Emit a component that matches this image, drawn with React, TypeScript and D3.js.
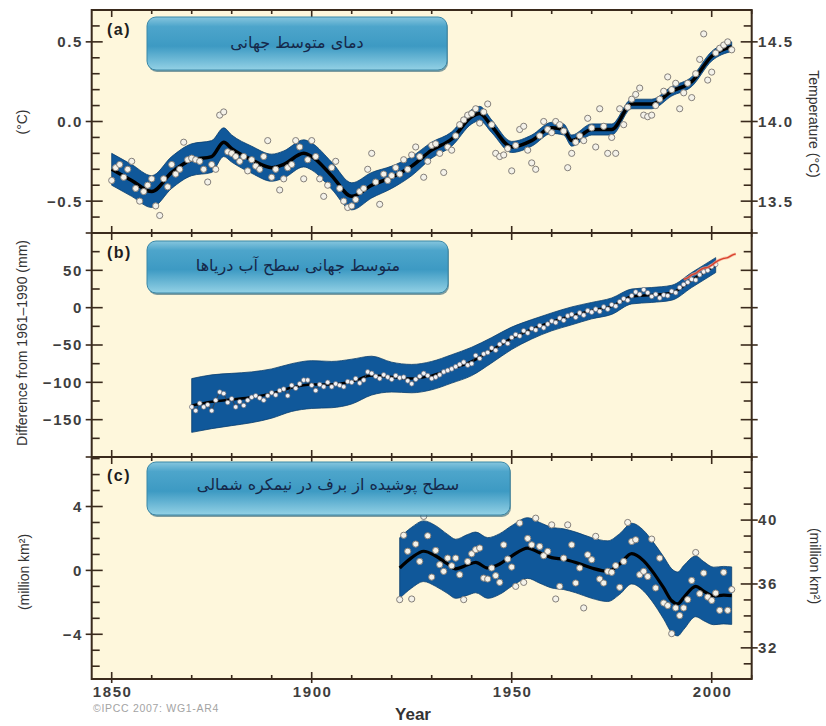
import React, { useEffect, useRef } from 'react';
import * as d3 from 'd3';

// (a) global mean temperature, annual anomalies from 1850 (°C)
const tempStart = 1850;
const tempAnnual = [
  -0.37, -0.29, -0.27, -0.35, -0.30, -0.25, -0.42, -0.50, -0.44, -0.40,
  -0.36, -0.53, -0.59, -0.36, -0.41, -0.27, -0.33, -0.30, -0.13, -0.24,
  -0.23, -0.24, -0.25, -0.30, -0.38, -0.27, -0.30, 0.04, 0.06, -0.19,
  -0.20, -0.22, -0.25, -0.22, -0.31, -0.24, -0.28, -0.30, -0.22, -0.12,
  -0.35, -0.30, -0.43, -0.36, -0.29, -0.27, -0.12, -0.16, -0.36, -0.24,
  -0.12, -0.22, -0.36, -0.47, -0.40, -0.29, -0.25, -0.42, -0.50, -0.54,
  -0.53, -0.49, -0.44, -0.42, -0.30, -0.20, -0.38, -0.52, -0.33, -0.37,
  -0.34, -0.29, -0.33, -0.24, -0.30, -0.21, -0.16, -0.22, -0.35, -0.25,
  -0.15, -0.14, -0.20, -0.32, -0.16, -0.18, -0.09, -0.02, 0.01, 0.04,
  0.05, 0.08, -0.01, 0.06, 0.11, -0.02, -0.20, -0.22, -0.21, -0.17,
  -0.31, -0.15, -0.05, -0.03, -0.18, -0.26, -0.30, -0.09, 0.00, -0.05,
  -0.07, 0.00, -0.02, -0.06, -0.29, -0.20, -0.13, -0.09, -0.12, 0.02,
  -0.04, -0.16, 0.08, -0.03, -0.20, -0.10, -0.20, 0.08, -0.02, 0.09,
  0.14, 0.17, 0.21, 0.04, 0.03, 0.04, 0.10, 0.14, 0.19, 0.28,
  0.20, 0.24, 0.08, 0.18, 0.24, 0.15, 0.30, 0.39, 0.55, 0.26,
  0.31, 0.43, 0.46, 0.48, 0.50, 0.45,
];
const tempSmoothYears = [1850, 1855, 1860, 1865, 1870, 1875, 1878, 1880, 1885, 1890, 1893, 1898, 1900, 1905, 1910, 1915, 1920, 1925, 1930, 1935, 1940, 1942, 1945, 1950, 1955, 1960, 1963, 1965, 1970, 1975, 1980, 1985, 1990, 1995, 2000, 2005];
const tempSmooth = [-0.30, -0.37, -0.44, -0.32, -0.24, -0.22, -0.13, -0.17, -0.24, -0.29, -0.27, -0.20, -0.22, -0.34, -0.47, -0.40, -0.35, -0.28, -0.18, -0.11, 0.03, 0.05, -0.03, -0.16, -0.12, -0.04, -0.05, -0.12, -0.05, -0.05, 0.11, 0.11, 0.19, 0.25, 0.41, 0.47];
const tempBand = [0.10, 0.10, 0.10, 0.10, 0.10, 0.10, 0.09, 0.085, 0.085, 0.085, 0.085, 0.085, 0.085, 0.085, 0.085, 0.08, 0.07, 0.06, 0.05, 0.045, 0.045, 0.045, 0.04, 0.035, 0.035, 0.035, 0.035, 0.035, 0.035, 0.035, 0.03, 0.03, 0.03, 0.03, 0.03, 0.03];

// (b) global mean sea level, difference from 1961-1990 (mm)
const seaStart = 1870;
const seaAnnual = [
  -133, -138, -128, -133, -130, -138, -124, -113, -115, -127,
  -122, -133, -126, -131, -124, -120, -118, -121, -124, -118,
  -114, -117, -111, -109, -118, -104, -108, -102, -97, -97,
  -104, -111, -103, -106, -100, -106, -102, -104, -106, -99,
  -100, -95, -101, -97, -86, -88, -92, -95, -90, -93,
  -96, -91, -94, -93, -98, -102, -96, -92, -88, -91,
  -95, -93, -90, -86, -84, -82, -79, -76, -73, -77,
  -75, -64, -68, -62, -60, -54, -57, -49, -45, -48,
  -40, -36, -38, -31, -34, -28, -30, -24, -27, -22,
  -18, -20, -14, -17, -11, -9, -13, -7, -10, -4,
  -6, -2, -5, 1, -2, 4, 2, 8, 12, 10,
  16, 21, 18, 24, 20, 15, 18, 13, 17, 16,
  22, 20, 27, 31, 34, 38, 37, 44, 48, 50,
  55, 58,
];
const seaSmoothYears = [1870, 1875, 1880, 1885, 1890, 1895, 1900, 1905, 1910, 1915, 1920, 1925, 1930, 1935, 1940, 1945, 1950, 1955, 1960, 1965, 1970, 1975, 1980, 1985, 1990, 1995, 2001];
const seaSmooth = [-131, -126, -123, -120, -115, -107, -103, -103, -99, -91, -93, -95, -91, -82, -72, -57, -41, -29, -19, -11, -4, 2, 15, 17, 20, 37, 57];
const seaBand = [36, 36, 35, 34, 33, 32, 32, 31, 30, 26, 20, 19, 19, 19, 19, 17, 15, 13, 12, 12, 11, 11, 10, 10, 10, 10, 10];
const satYears = [1993, 1994, 1995, 1996, 1997, 1998, 1999, 2000, 2001, 2002, 2003, 2004, 2005, 2006];
const satLevel = [38, 40, 44, 46, 50, 53, 54, 57, 61, 64, 66, 67, 70, 72];

// (c) Northern Hemisphere snow cover anomaly (million km²)
const snowStart = 1922;
const snowAnnual = [
  -1.83, 2.2, 1.2, -1.79, 1.65, 0.56, 3.38, 2.17,
  -0.42, 1.25, 0.36, -0.06, 0.77, 0.29, 0.77, -0.27, -1.83, 0.56,
  1.04, 1.3, 1.4, -0.48, -0.54, 0.15, -0.33, -0.75, 1.6, 0.71,
  0.21, -1.0, 2.96, -0.75, 2.0, 1.6, 3.27, 1.5, 0.92, 1.19,
  2.85, -1.79, -1.0, 0.77, 2.85, 1.6, -0.79, 0.15, -2.35, 0.98,
  0.67, 2.13, -0.54, -0.79, -0.06, -0.12, 0.3, -1.06, 0.56, 3.0,
  1.81, 1.92, -0.27, -0.06, -0.38, 1.96, -1.1, 0.77, -2.04, -2.2,
  -3.96, -2.35, -2.83, -2.35, -1.83, -0.63, 1.12, -1.46, -0.17, -1.67,
  -1.88, -1.42, -2.5, -0.12, -2.5, -1.2,
];
const snowSmoothYears = [1922, 1925, 1928, 1931, 1934, 1936, 1939, 1941, 1944, 1947, 1950, 1954, 1957, 1960, 1963, 1966, 1970, 1974, 1977, 1980, 1983, 1985, 1988, 1990, 1991.5, 1993, 1996, 1998, 2000.5, 2003, 2005];
const snowSmooth = [0.15, 0.8, 1.2, 0.9, 0.4, 0.1, 0.35, 0.5, 0.15, 0.4, 0.9, 1.4, 1.1, 0.8, 0.7, 0.5, 0.15, -0.05, 0.4, 1.05, 0.6, 0.0, -1.1, -1.9, -2.1, -1.7, -1.0, -1.3, -1.6, -1.55, -1.58];
const snowBand = [1.9, 1.9, 1.9, 1.9, 1.85, 1.85, 1.9, 1.9, 1.9, 1.9, 1.9, 1.9, 1.9, 1.9, 1.9, 1.9, 1.9, 1.9, 1.9, 1.9, 1.9, 1.9, 1.95, 2.0, 2.0, 2.0, 1.9, 1.85, 1.8, 1.8, 1.8];

const boxTitles = ['دمای متوسط جهانی', 'متوسط جهانی سطح آب دریاها', 'سطح پوشیده از برف در نیمکره شمالی'];
const xLabels = [1850, 1900, 1950, 2000];

const W = 826;
const H = 726;
const BLUE = '#10589a';
const FRAME = '#3a2a1c';
const SANS = '"Liberation Sans", Arial, sans-serif';

function stepValues(d0: number, d1: number, step: number) {
  const lo = Math.ceil(Math.min(d0, d1) / step - 1e-9);
  const hi = Math.floor(Math.max(d0, d1) / step + 1e-9);
  return d3.range(lo, hi + 1).map((i) => +(i * step).toFixed(4));
}

function draw(svgEl: SVGSVGElement) {
  const svg = d3.select(svgEl);
  svg.selectAll('*').remove();

  const left = 91.7;
  const right = 751.7;
  const panels = [
    { top: 10, bottom: 233 },
    { top: 233, bottom: 457 },
    { top: 457, bottom: 679 },
  ];

  const x = d3.scaleLinear().domain([1845, 2010]).range([left, right]);
  const yA = d3.scaleLinear().domain([-0.7, 0.7]).range([233, 10]);
  const yAR = d3.scaleLinear().domain([13.3, 14.7]).range([233, 10]);
  const yB = d3.scaleLinear().domain([-200, 100]).range([457, 233]);
  const yC = d3.scaleLinear().domain([-6.8, 7.1]).range([679, 457]);
  const yCR = d3.scaleLinear().domain([30.05, 43.95]).range([679, 457]);

  const defs = svg.append('defs');
  const grad = defs.append('linearGradient').attr('id', 'boxGrad').attr('x1', 0).attr('y1', 0).attr('x2', 0).attr('y2', 1);
  grad.append('stop').attr('offset', '0%').attr('stop-color', '#86c6de');
  grad.append('stop').attr('offset', '18%').attr('stop-color', '#4da5cb');
  grad.append('stop').attr('offset', '55%').attr('stop-color', '#3d9ac3');
  grad.append('stop').attr('offset', '100%').attr('stop-color', '#93d1e5');
  panels.forEach((p, i) => {
    defs.append('clipPath').attr('id', `clip${i}`)
      .append('rect').attr('x', left).attr('y', p.top).attr('width', right - left).attr('height', p.bottom - p.top);
  });

  // background
  svg.append('rect').attr('x', 0).attr('y', 0).attr('width', W).attr('height', H).attr('fill', '#ffffff');
  svg.append('rect').attr('x', left).attr('y', 10).attr('width', right - left).attr('height', 669).attr('fill', '#fef7dc');

  // ---- panel (a)
  const pA = svg.append('g').attr('clip-path', 'url(#clip0)');
  const areaA = d3.area<number>()
    .x((d, i) => x(tempSmoothYears[i]))
    .y0((d, i) => yA(d - tempBand[i]))
    .y1((d, i) => yA(d + tempBand[i]))
    .curve(d3.curveMonotoneX);
  pA.append('path').datum(tempSmooth).attr('d', areaA).attr('fill', BLUE).attr('stroke', '#0b3f6e').attr('stroke-width', 0.8);
  const lineA = d3.line<number>().x((d, i) => x(tempSmoothYears[i])).y((d) => yA(d)).curve(d3.curveMonotoneX);
  pA.append('path').datum(tempSmooth).attr('d', lineA).attr('fill', 'none').attr('stroke', '#000').attr('stroke-width', 3.5);
  pA.selectAll('circle').data(tempAnnual).join('circle')
    .attr('cx', (d, i) => x(tempStart + i))
    .attr('cy', (d) => yA(d))
    .attr('r', 3.1)
    .attr('fill', '#f4f2ea')
    .attr('stroke', '#85807a')
    .attr('stroke-width', 1);

  // ---- panel (b)
  const pB = svg.append('g').attr('clip-path', 'url(#clip1)');
  const areaB = d3.area<number>()
    .x((d, i) => x(seaSmoothYears[i]))
    .y0((d, i) => yB(d - seaBand[i]))
    .y1((d, i) => yB(d + seaBand[i]))
    .curve(d3.curveMonotoneX);
  pB.append('path').datum(seaSmooth).attr('d', areaB).attr('fill', BLUE).attr('stroke', '#0b3f6e').attr('stroke-width', 0.8);
  const lineB = d3.line<number>().x((d, i) => x(seaSmoothYears[i])).y((d) => yB(d)).curve(d3.curveMonotoneX);
  pB.append('path').datum(seaSmooth).attr('d', lineB).attr('fill', 'none').attr('stroke', '#000').attr('stroke-width', 2.5);
  const annB = d3.line<number>().x((d, i) => x(seaStart + i)).y((d) => yB(d));
  pB.append('path').datum(seaAnnual).attr('d', annB).attr('fill', 'none').attr('stroke', '#3a3f4a').attr('stroke-width', 0.9);
  pB.selectAll('circle').data(seaAnnual).join('circle')
    .attr('cx', (d, i) => x(seaStart + i))
    .attr('cy', (d) => yB(d))
    .attr('r', 2.3)
    .attr('fill', '#f2f3f6')
    .attr('stroke', '#6d6f78')
    .attr('stroke-width', 0.7);
  const satLine = d3.line<number>().x((d, i) => x(satYears[i])).y((d) => yB(d)).curve(d3.curveMonotoneX);
  pB.append('path').datum(satLevel).attr('d', satLine).attr('fill', 'none').attr('stroke', '#f3a58a').attr('stroke-width', 3).attr('opacity', 0.7);
  pB.append('path').datum(satLevel).attr('d', satLine).attr('fill', 'none').attr('stroke', '#d9412e').attr('stroke-width', 1.4);

  // ---- panel (c)
  const pC = svg.append('g').attr('clip-path', 'url(#clip2)');
  const areaC = d3.area<number>()
    .x((d, i) => x(snowSmoothYears[i]))
    .y0((d, i) => yC(d - snowBand[i]))
    .y1((d, i) => yC(d + snowBand[i]))
    .curve(d3.curveMonotoneX);
  pC.append('path').datum(snowSmooth).attr('d', areaC).attr('fill', BLUE).attr('stroke', '#0b3f6e').attr('stroke-width', 0.8);
  const lineC = d3.line<number>().x((d, i) => x(snowSmoothYears[i])).y((d) => yC(d)).curve(d3.curveMonotoneX);
  pC.append('path').datum(snowSmooth).attr('d', lineC).attr('fill', 'none').attr('stroke', '#000').attr('stroke-width', 3.2);
  pC.selectAll('circle').data(snowAnnual).join('circle')
    .attr('cx', (d, i) => x(snowStart + i))
    .attr('cy', (d) => yC(d))
    .attr('r', 3.1)
    .attr('fill', '#f4f2ea')
    .attr('stroke', '#85807a')
    .attr('stroke-width', 1);

  // ---- ticks
  const ticks = svg.append('g').attr('stroke', FRAME).attr('stroke-width', 1.6);
  const xMinor = stepValues(1845, 2010, 10);
  panels.forEach((p) => {
    xMinor.forEach((yr) => {
      const major = yr % 50 === 0;
      const len = major ? 7 : 4;
      ticks.append('line').attr('x1', x(yr)).attr('x2', x(yr)).attr('y1', p.top).attr('y2', p.top + len);
      ticks.append('line').attr('x1', x(yr)).attr('x2', x(yr)).attr('y1', p.bottom).attr('y2', p.bottom - len);
    });
  });
  xMinor.filter((yr) => yr % 50 === 0).forEach((yr) => {
    ticks.append('line').attr('x1', x(yr)).attr('x2', x(yr)).attr('y1', 679).attr('y2', 683);
  });

  const yTicks = (scale: d3.ScaleLinear<number, number>, minor: number, major: number, side: 'l' | 'r') => {
    const [d0, d1] = scale.domain();
    stepValues(d0, d1, minor).forEach((v) => {
      const isMajor = Math.abs(v / major - Math.round(v / major)) < 1e-6;
      const xi = side === 'l' ? left : right;
      const dir = side === 'l' ? 1 : -1;
      const inLen = isMajor ? 11 : 8;
      const outLen = isMajor ? 6 : 0;
      ticks.append('line')
        .attr('x1', xi - dir * outLen).attr('x2', xi + dir * inLen)
        .attr('y1', scale(v)).attr('y2', scale(v));
    });
  };
  yTicks(yA, 0.1, 0.5, 'l');
  yTicks(yAR, 0.1, 0.5, 'r');
  yTicks(yB, 25, 50, 'l');
  yTicks(yB, 25, 50, 'r');
  yTicks(yC, 1, 4, 'l');
  yTicks(yCR, 1, 4, 'r');

  // frame
  svg.append('rect').attr('x', left).attr('y', 10).attr('width', right - left).attr('height', 669)
    .attr('fill', 'none').attr('stroke', FRAME).attr('stroke-width', 2);
  [233, 457].forEach((yy) => {
    svg.append('line').attr('x1', left).attr('x2', right).attr('y1', yy).attr('y2', yy)
      .attr('stroke', FRAME).attr('stroke-width', 2);
  });

  // ---- tick labels
  const lab = svg.append('g')
    .style('font-family', SANS)
    .style('font-weight', 'bold')
    .style('font-size', '15px')
    .style('letter-spacing', '1.6px')
    .attr('fill', '#3e3e3e');
  const fmtA = (v: number) => (v < 0 ? '−' : '') + Math.abs(v).toFixed(1);
  const fmtI = (v: number) => (v < 0 ? '−' : '') + Math.abs(v).toString();
  [0.5, 0, -0.5].forEach((v) => {
    lab.append('text').attr('x', 83).attr('y', yA(v)).attr('dy', '0.36em').attr('text-anchor', 'end').text(fmtA(v));
  });
  [14.5, 14.0, 13.5].forEach((v) => {
    lab.append('text').attr('x', 758).attr('y', yAR(v)).attr('dy', '0.36em').text(v.toFixed(1));
  });
  [50, 0, -50, -100, -150].forEach((v) => {
    lab.append('text').attr('x', 83).attr('y', yB(v)).attr('dy', '0.36em').attr('text-anchor', 'end').text(fmtI(v));
  });
  [4, 0, -4].forEach((v) => {
    lab.append('text').attr('x', 83).attr('y', yC(v)).attr('dy', '0.36em').attr('text-anchor', 'end').text(fmtI(v));
  });
  [40, 36, 32].forEach((v) => {
    lab.append('text').attr('x', 758).attr('y', yCR(v)).attr('dy', '0.36em').text(String(v));
  });
  xLabels.forEach((yr) => {
    lab.append('text').attr('x', x(yr) + 1).attr('y', 697).attr('text-anchor', 'middle').text(String(yr));
  });

  // ---- axis titles
  const ttl = svg.append('g')
    .style('font-family', SANS)
    .style('font-size', '14px')
    .attr('fill', '#333');
  ttl.append('text').attr('transform', 'translate(27,122) rotate(-90)').attr('text-anchor', 'middle').text('(°C)');
  ttl.append('text').attr('transform', 'translate(27,343) rotate(-90)').attr('text-anchor', 'middle').text('Difference from 1961–1990 (mm)');
  ttl.append('text').attr('transform', 'translate(29,572) rotate(-90)').attr('text-anchor', 'middle').text('(million km²)');
  ttl.append('text').attr('transform', 'translate(809,124) rotate(90)').attr('text-anchor', 'middle').text('Temperature (°C)');
  ttl.append('text').attr('transform', 'translate(810,566) rotate(90)').attr('text-anchor', 'middle').text('(million km²)');

  svg.append('text').attr('x', 413).attr('y', 720).attr('text-anchor', 'middle')
    .style('font-family', SANS).style('font-weight', 'bold').style('font-size', '17px')
    .attr('fill', '#333').text('Year');
  svg.append('text').attr('x', 93).attr('y', 712)
    .style('font-family', SANS).style('font-size', '10.5px').style('letter-spacing', '0.7px')
    .attr('fill', '#a3a3a3').text('©IPCC 2007: WG1-AR4');

  // ---- panel letters and Persian title boxes
  const letters = ['(a)', '(b)', '(c)'];
  const letterY = [35, 258, 481];
  letters.forEach((t, i) => {
    svg.append('text').attr('x', 107).attr('y', letterY[i])
      .style('font-family', SANS).style('font-weight', 'bold').style('font-size', '16px').style('letter-spacing', '1.5px')
      .attr('fill', '#1e1e1e').text(t);
  });
  const boxes = [
    { x: 147, y: 17, w: 300, h: 53, cx: 297 },
    { x: 147, y: 241, w: 301, h: 52, cx: 298 },
    { x: 147, y: 462, w: 363, h: 53, cx: 328 },
  ];
  const textY = [42, 265, 484];
  boxes.forEach((b, i) => {
    svg.append('rect').attr('x', b.x + 1).attr('y', b.y + 2).attr('width', b.w).attr('height', b.h).attr('rx', 9)
      .attr('fill', '#2a5f74').attr('opacity', 0.6);
    svg.append('rect').attr('x', b.x).attr('y', b.y).attr('width', b.w).attr('height', b.h).attr('rx', 9)
      .attr('fill', 'url(#boxGrad)').attr('stroke', '#3a88a8').attr('stroke-width', 1);
    svg.append('text').attr('x', b.cx).attr('y', textY[i]).attr('dy', '0.35em').attr('text-anchor', 'middle')
      .style('font-family', '"DejaVu Sans", sans-serif').style('font-size', '16px')
      .attr('fill', '#15284a').text(boxTitles[i]);
  });
}

export default function App() {
  const ref = useRef<SVGSVGElement>(null);
  useEffect(() => {
    if (ref.current) draw(ref.current);
  }, []);
  return (
    <svg
      ref={ref}
      width={W}
      height={H}
      style={{ position: 'absolute', left: 0, top: 0, display: 'block' }}
    />
  );
}
